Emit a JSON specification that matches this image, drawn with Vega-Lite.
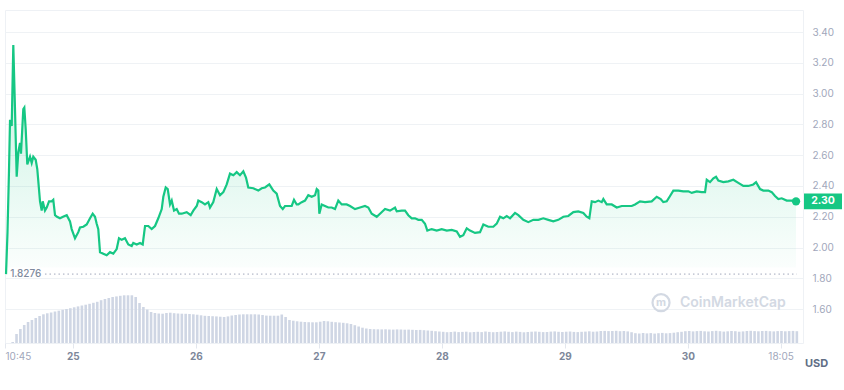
{
"$schema": "https://vega.github.io/schema/vega-lite/v6.json",
"width": 798, "height": 333,
"autosize": {"type": "none"},
"padding": {"left": 5, "top": 10, "right": 41, "bottom": 47},
"background": "#ffffff",
"config": {"view": {"stroke": "#eef1f5", "strokeWidth": 1}, "font": "Inter", "axis": {"labelFont": "Inter", "titleFont": "Inter", "labelOverlap": false}},
"datasets": {
"price": [
{"t":0.2,"p":1.8276},{"t":0.49,"p":2.1},{"t":0.78,"p":2.5},{"t":0.98,"p":2.83},{"t":1.31,"p":2.79},{"t":1.62,"p":3.316},{"t":1.95,"p":2.9},{"t":2.28,"p":2.46},{"t":2.6,"p":2.62},{"t":2.93,"p":2.68},{"t":3.12,"p":2.61},{"t":3.57,"p":2.9},{"t":3.77,"p":2.91},{"t":4.04,"p":2.77},{"t":4.35,"p":2.54},{"t":4.88,"p":2.59},{"t":5.21,"p":2.55},{"t":5.52,"p":2.59},{"t":5.99,"p":2.57},{"t":6.3,"p":2.51},{"t":6.83,"p":2.3},{"t":7.16,"p":2.24},{"t":7.36,"p":2.3},{"t":7.8,"p":2.24},{"t":8.14,"p":2.26},{"t":8.59,"p":2.3},{"t":9.11,"p":2.3},{"t":9.42,"p":2.31},{"t":9.76,"p":2.21},{"t":10.15,"p":2.2},{"t":10.73,"p":2.19},{"t":11.32,"p":2.2},{"t":12.04,"p":2.21},{"t":12.68,"p":2.17},{"t":13.01,"p":2.12},{"t":13.66,"p":2.06},{"t":14.3,"p":2.1},{"t":14.63,"p":2.13},{"t":15.28,"p":2.135},{"t":15.94,"p":2.15},{"t":16.59,"p":2.19},{"t":17.11,"p":2.22},{"t":17.56,"p":2.2},{"t":17.89,"p":2.155},{"t":18.2,"p":2.12},{"t":18.54,"p":1.97},{"t":19.18,"p":1.96},{"t":19.84,"p":1.95},{"t":20.49,"p":1.97},{"t":21.13,"p":1.96},{"t":21.79,"p":1.99},{"t":22.24,"p":2.06},{"t":22.77,"p":2.05},{"t":23.41,"p":2.06},{"t":24.06,"p":2.02},{"t":24.72,"p":2.01},{"t":25.03,"p":2.03},{"t":25.7,"p":2.02},{"t":26.34,"p":2.03},{"t":26.87,"p":2.02},{"t":27.32,"p":2.14},{"t":27.96,"p":2.14},{"t":28.62,"p":2.12},{"t":29.27,"p":2.14},{"t":29.91,"p":2.19},{"t":30.58,"p":2.25},{"t":30.89,"p":2.33},{"t":31.36,"p":2.39},{"t":31.75,"p":2.38},{"t":32.2,"p":2.28},{"t":32.53,"p":2.305},{"t":32.98,"p":2.24},{"t":33.5,"p":2.25},{"t":33.95,"p":2.22},{"t":34.48,"p":2.22},{"t":35.45,"p":2.23},{"t":36.23,"p":2.21},{"t":36.74,"p":2.24},{"t":37.41,"p":2.27},{"t":37.72,"p":2.305},{"t":38.38,"p":2.295},{"t":39.02,"p":2.28},{"t":39.67,"p":2.295},{"t":40,"p":2.26},{"t":40.64,"p":2.295},{"t":41.31,"p":2.38},{"t":41.95,"p":2.34},{"t":42.6,"p":2.36},{"t":43.26,"p":2.41},{"t":43.9,"p":2.48},{"t":44.55,"p":2.47},{"t":45.21,"p":2.49},{"t":45.85,"p":2.47},{"t":46.5,"p":2.495},{"t":47.02,"p":2.455},{"t":47.47,"p":2.39},{"t":48.45,"p":2.385},{"t":49.42,"p":2.37},{"t":50.09,"p":2.385},{"t":50.73,"p":2.39},{"t":51.57,"p":2.41},{"t":52.35,"p":2.37},{"t":53.01,"p":2.35},{"t":53.66,"p":2.27},{"t":54.19,"p":2.25},{"t":54.63,"p":2.27},{"t":55.28,"p":2.27},{"t":55.94,"p":2.27},{"t":56.39,"p":2.31},{"t":56.92,"p":2.28},{"t":57.23,"p":2.28},{"t":57.89,"p":2.295},{"t":58.54,"p":2.305},{"t":59.18,"p":2.34},{"t":59.84,"p":2.33},{"t":60.49,"p":2.34},{"t":60.82,"p":2.38},{"t":61.13,"p":2.37},{"t":61.33,"p":2.22},{"t":61.79,"p":2.28},{"t":62.44,"p":2.27},{"t":63.08,"p":2.26},{"t":63.75,"p":2.26},{"t":64.39,"p":2.25},{"t":65.03,"p":2.305},{"t":65.7,"p":2.28},{"t":66.67,"p":2.28},{"t":67.32,"p":2.27},{"t":68.29,"p":2.25},{"t":69.27,"p":2.26},{"t":70.24,"p":2.27},{"t":70.89,"p":2.26},{"t":71.55,"p":2.22},{"t":72.53,"p":2.2},{"t":73.17,"p":2.22},{"t":74.15,"p":2.25},{"t":75.12,"p":2.24},{"t":76.1,"p":2.26},{"t":76.43,"p":2.235},{"t":77.4,"p":2.24},{"t":78.05,"p":2.24},{"t":78.69,"p":2.21},{"t":79.36,"p":2.19},{"t":80,"p":2.19},{"t":80.64,"p":2.18},{"t":81.31,"p":2.18},{"t":81.95,"p":2.155},{"t":82.4,"p":2.11},{"t":83.26,"p":2.12},{"t":84.23,"p":2.11},{"t":85.21,"p":2.12},{"t":86.19,"p":2.11},{"t":87.16,"p":2.115},{"t":88.14,"p":2.105},{"t":88.78,"p":2.07},{"t":89.42,"p":2.08},{"t":90.09,"p":2.125},{"t":90.73,"p":2.11},{"t":91.71,"p":2.095},{"t":92.68,"p":2.1},{"t":93.33,"p":2.15},{"t":94.3,"p":2.135},{"t":95.28,"p":2.135},{"t":95.94,"p":2.155},{"t":96.59,"p":2.2},{"t":97.23,"p":2.19},{"t":97.89,"p":2.205},{"t":98.54,"p":2.19},{"t":99.51,"p":2.225},{"t":100.16,"p":2.21},{"t":101.13,"p":2.18},{"t":102.11,"p":2.165},{"t":103.08,"p":2.18},{"t":104.06,"p":2.18},{"t":105.03,"p":2.19},{"t":106.01,"p":2.18},{"t":106.98,"p":2.17},{"t":107.96,"p":2.18},{"t":108.94,"p":2.2},{"t":109.91,"p":2.205},{"t":110.89,"p":2.23},{"t":111.86,"p":2.235},{"t":112.84,"p":2.225},{"t":113.5,"p":2.2},{"t":114.01,"p":2.19},{"t":114.48,"p":2.3},{"t":115.12,"p":2.295},{"t":115.77,"p":2.305},{"t":116.43,"p":2.295},{"t":116.74,"p":2.315},{"t":117.4,"p":2.28},{"t":118.38,"p":2.28},{"t":119.36,"p":2.26},{"t":120.33,"p":2.27},{"t":121.31,"p":2.27},{"t":122.28,"p":2.27},{"t":122.93,"p":2.28},{"t":123.9,"p":2.3},{"t":124.88,"p":2.295},{"t":126.18,"p":2.3},{"t":127.16,"p":2.33},{"t":127.94,"p":2.315},{"t":128.44,"p":2.295},{"t":129.11,"p":2.3},{"t":129.76,"p":2.335},{"t":130.4,"p":2.37},{"t":131.38,"p":2.37},{"t":132.35,"p":2.365},{"t":133.33,"p":2.365},{"t":133.99,"p":2.355},{"t":134.97,"p":2.365},{"t":135.94,"p":2.36},{"t":136.59,"p":2.36},{"t":136.92,"p":2.44},{"t":137.56,"p":2.425},{"t":138.21,"p":2.45},{"t":138.73,"p":2.46},{"t":139.18,"p":2.435},{"t":140.16,"p":2.425},{"t":141.13,"p":2.43},{"t":142.11,"p":2.44},{"t":143.08,"p":2.42},{"t":144.06,"p":2.4},{"t":145.03,"p":2.4},{"t":146.01,"p":2.41},{"t":146.54,"p":2.425},{"t":147.32,"p":2.38},{"t":147.96,"p":2.37},{"t":148.94,"p":2.37},{"t":149.6,"p":2.36},{"t":150.24,"p":2.335},{"t":150.89,"p":2.315},{"t":151.55,"p":2.32},{"t":152.52,"p":2.305},{"t":153.5,"p":2.305},{"t":154.34,"p":2.3}
],
"volume": [
{"t":1.5,"v":1},{"t":2.25,"v":9},{"t":3,"v":14},{"t":3.75,"v":18},{"t":4.5,"v":21},{"t":5.25,"v":23},{"t":6,"v":25},{"t":6.75,"v":27},{"t":7.5,"v":28.7},{"t":8.25,"v":29.7},{"t":9,"v":30.5},{"t":9.75,"v":31.5},{"t":10.5,"v":32.3},{"t":11.25,"v":33.2},{"t":12,"v":34},{"t":12.75,"v":34.8},{"t":13.5,"v":35.7},{"t":14.25,"v":36.6},{"t":15,"v":37.5},{"t":15.75,"v":38.3},{"t":16.5,"v":39.2},{"t":17.25,"v":40.2},{"t":18,"v":41.2},{"t":18.75,"v":42.8},{"t":19.5,"v":44},{"t":20.25,"v":45},{"t":21,"v":46},{"t":21.75,"v":46.6},{"t":22.5,"v":47.2},{"t":23.25,"v":47.7},{"t":24,"v":47.7},{"t":24.75,"v":47.7},{"t":25.5,"v":46},{"t":26.25,"v":40},{"t":27,"v":36},{"t":27.75,"v":33.5},{"t":28.5,"v":31},{"t":29.25,"v":30},{"t":30,"v":29.5},{"t":30.75,"v":29.3},{"t":31.5,"v":30},{"t":32.25,"v":30.3},{"t":33,"v":29.8},{"t":33.75,"v":29.5},{"t":34.5,"v":29.3},{"t":35.25,"v":29.2},{"t":36,"v":29},{"t":36.75,"v":28.7},{"t":37.5,"v":28.3},{"t":38.25,"v":27.7},{"t":39,"v":27.2},{"t":39.75,"v":27},{"t":40.5,"v":26.8},{"t":41.25,"v":26.6},{"t":42,"v":26.3},{"t":42.75,"v":26},{"t":43.5,"v":26.6},{"t":44.25,"v":27.5},{"t":45,"v":28},{"t":45.75,"v":28.5},{"t":46.5,"v":28.7},{"t":47.25,"v":28.7},{"t":48,"v":28.7},{"t":48.75,"v":28.7},{"t":49.5,"v":28.5},{"t":50.25,"v":28},{"t":51,"v":27.4},{"t":51.75,"v":27.3},{"t":52.5,"v":27.3},{"t":53.25,"v":27.3},{"t":54,"v":28.5},{"t":54.75,"v":26},{"t":55.5,"v":23},{"t":56.25,"v":22.3},{"t":57,"v":21.7},{"t":57.75,"v":21.3},{"t":58.5,"v":21},{"t":59.25,"v":20.8},{"t":60,"v":20.7},{"t":60.75,"v":20.7},{"t":61.5,"v":21.3},{"t":62.25,"v":22},{"t":63,"v":21.7},{"t":63.75,"v":21.2},{"t":64.5,"v":20.8},{"t":65.25,"v":20.5},{"t":66,"v":20.2},{"t":66.75,"v":19.7},{"t":67.5,"v":19},{"t":68.25,"v":17.8},{"t":69,"v":16.5},{"t":69.75,"v":15.3},{"t":70.5,"v":14.5},{"t":71.25,"v":14},{"t":72,"v":13.8},{"t":72.75,"v":13.7},{"t":73.5,"v":13.6},{"t":74.25,"v":13.7},{"t":75,"v":13.5},{"t":75.75,"v":13.4},{"t":76.5,"v":13.6},{"t":77.25,"v":13.5},{"t":78,"v":13.3},{"t":78.75,"v":13.4},{"t":79.5,"v":13.2},{"t":80.25,"v":13},{"t":81,"v":13.1},{"t":81.75,"v":12.8},{"t":82.5,"v":12.5},{"t":83.25,"v":12.2},{"t":84,"v":11.8},{"t":84.75,"v":11.5},{"t":85.5,"v":11.2},{"t":86.25,"v":10.8},{"t":87,"v":11},{"t":87.75,"v":11.4},{"t":88.5,"v":10.9},{"t":89.25,"v":11.1},{"t":90,"v":11.3},{"t":90.75,"v":10.7},{"t":91.5,"v":11},{"t":92.25,"v":11.2},{"t":93,"v":10.9},{"t":93.75,"v":11.5},{"t":94.5,"v":11.1},{"t":95.25,"v":10.8},{"t":96,"v":11},{"t":96.75,"v":11.3},{"t":97.5,"v":11.6},{"t":98.25,"v":11.2},{"t":99,"v":10.9},{"t":99.75,"v":11.4},{"t":100.5,"v":11.1},{"t":101.25,"v":10.7},{"t":102,"v":11},{"t":102.75,"v":11.3},{"t":103.5,"v":11.5},{"t":104.25,"v":11.2},{"t":105,"v":10.9},{"t":105.75,"v":11},{"t":106.5,"v":11.4},{"t":107.25,"v":11.6},{"t":108,"v":11.2},{"t":108.75,"v":11},{"t":109.5,"v":11.3},{"t":110.25,"v":11.5},{"t":111,"v":11.1},{"t":111.75,"v":10.9},{"t":112.5,"v":11.2},{"t":113.25,"v":11.4},{"t":114,"v":11.7},{"t":114.75,"v":11.3},{"t":115.5,"v":11.5},{"t":116.25,"v":12},{"t":117,"v":12.1},{"t":117.75,"v":11.9},{"t":118.5,"v":12},{"t":119.25,"v":12.2},{"t":120,"v":11.8},{"t":120.75,"v":12},{"t":121.5,"v":11.6},{"t":122.25,"v":10.8},{"t":123,"v":9.8},{"t":123.75,"v":9.5},{"t":124.5,"v":10},{"t":125.25,"v":9.6},{"t":126,"v":9.9},{"t":126.75,"v":9.4},{"t":127.5,"v":9.8},{"t":128.25,"v":10.1},{"t":129,"v":9.7},{"t":129.75,"v":9.9},{"t":130.5,"v":10.3},{"t":131.25,"v":10.8},{"t":132,"v":11.2},{"t":132.75,"v":11.8},{"t":133.5,"v":12},{"t":134.25,"v":11.6},{"t":135,"v":11.9},{"t":135.75,"v":12.1},{"t":136.5,"v":11.7},{"t":137.25,"v":11.5},{"t":138,"v":11.9},{"t":138.75,"v":12.2},{"t":139.5,"v":11.8},{"t":140.25,"v":11.4},{"t":141,"v":11.7},{"t":141.75,"v":12},{"t":142.5,"v":11.8},{"t":143.25,"v":11.3},{"t":144,"v":11.6},{"t":144.75,"v":12},{"t":145.5,"v":12.2},{"t":146.25,"v":11.9},{"t":147,"v":11.7},{"t":147.75,"v":12},{"t":148.5,"v":12.1},{"t":149.25,"v":11.8},{"t":150,"v":11.6},{"t":150.75,"v":11.9},{"t":151.5,"v":12},{"t":152.25,"v":11.7},{"t":153,"v":11.9},{"t":153.75,"v":12.1},{"t":154.5,"v":11.8}
],
"notes": [{"low": 1.8276, "last": 2.3, "brand": "CoinMarketCap", "logoY": 1.642}]
},
"layer": [
{
"data": {"name": "volume"},
"mark": {"type": "bar", "color": "#cfd6e4", "size": 2.6},
"encoding": {
"x": {"field": "t", "type": "quantitative", "scale": {"domain": [0, 155.7], "nice": false, "zero": false, "padding": 0},
"axis": {"values": [0, 13.25, 37.25, 61.25, 85.25, 109.25, 133.25, 151.33],
"labelExpr": "datum.value == 0 ? '10:45' : datum.value > 150 ? '18:05' : '' + (25 + round((datum.value - 13.25) / 24))",
"grid": false, "domain": false, "ticks": true, "tickColor": "#e3e7ee", "tickSize": 5,
"labelFlush": true, "labelOverlap": false, "labelPadding": 3, "labelFontSize": 10,
"labelColor": {"condition": {"test": "datum.value > 1 && datum.value < 150", "value": "#7d879a"}, "value": "#a1a7bb"},
"labelFontWeight": {"condition": {"test": "datum.value > 1 && datum.value < 150", "value": "bold"}, "value": "normal"},
"title": "USD", "titleX": 811, "titleY": 20, "titleAlign": "center", "titleBaseline": "middle",
"titleFontSize": 11, "titleFontWeight": "bold", "titleColor": "#616e85"}},
"y": {"field": "v", "type": "quantitative", "scale": {"domain": [0, 333], "nice": false}, "axis": null}
}
},
{
"layer": [
{
"data": {"name": "price"},
"mark": {"type": "area", "color": {"gradient": "linear", "x1": 0, "y1": 0, "x2": 0, "y2": 1, "stops": [{"offset": 0, "color": "rgba(22,199,132,0.25)"}, {"offset": 1, "color": "rgba(22,199,132,0.01)"}]}},
"encoding": {
"x": {"field": "t", "type": "quantitative"},
"y": {"field": "p", "type": "quantitative", "scale": {"domain": [1.38, 3.543], "nice": false, "zero": false}},
"y2": {"datum": 1.87}
}
},
{
"data": {"name": "price"},
"mark": {"type": "line", "color": "#16c784", "strokeWidth": 2.2},
"encoding": {
"x": {"field": "t", "type": "quantitative"},
"y": {"field": "p", "type": "quantitative",
"axis": {"orient": "right", "values": [1.6, 1.8, 2, 2.2, 2.4, 2.6, 2.8, 3, 3.2, 3.4], "tickCount": 11,
"labelExpr": "datum.value < 1.5 ? '' : format(datum.value, '.2f')",
"grid": true, "gridColor": "#eff2f5", "domain": false, "ticks": false, "labelPadding": 9, "labelOverlap": false,
"labelFontSize": 10, "labelColor": "#a1a7bb", "title": null}}
}
},
{
"data": {"name": "notes"},
"mark": {"type": "rule", "color": "#a1a7bb", "strokeDash": [1.5, 3], "strokeWidth": 1},
"encoding": {
"x": {"datum": 7.8, "type": "quantitative"},
"x2": {"datum": 154.5},
"y": {"field": "low", "type": "quantitative"}
}
},
{
"data": {"name": "notes"},
"mark": {"type": "text", "align": "left", "baseline": "middle", "color": "#808a9d", "fontSize": 10, "fontWeight": 500},
"encoding": {
"x": {"datum": 1.0, "type": "quantitative"},
"y": {"field": "low", "type": "quantitative"},
"text": {"field": "low", "type": "quantitative", "format": ".4f"}
}
},
{
"data": {"name": "price"},
"transform": [{"filter": "datum.t > 154"}],
"mark": {"type": "point", "filled": true, "color": "#16c784", "size": 70, "opacity": 1},
"encoding": {
"x": {"field": "t", "type": "quantitative"},
"y": {"field": "p", "type": "quantitative"}
}
},
{
"data": {"name": "notes"},
"mark": {"type": "point", "shape": "M-1,-0.42H1V0.42H-1Z", "filled": true, "color": "#16c784", "size": 1444, "opacity": 1, "xOffset": 20},
"encoding": {
"x": {"datum": 155.7, "type": "quantitative"},
"y": {"field": "last", "type": "quantitative"}
}
},
{
"data": {"name": "notes"},
"mark": {"type": "text", "align": "center", "baseline": "middle", "color": "#ffffff", "fontSize": 10.5, "fontWeight": "bold", "dx": 20},
"encoding": {
"x": {"datum": 155.7, "type": "quantitative"},
"y": {"field": "last", "type": "quantitative"},
"text": {"field": "last", "type": "quantitative", "format": ".2f"}
}
},
{
"data": {"name": "notes"},
"mark": {"type": "point", "shape": "circle", "filled": false, "color": "#d3d9e3", "strokeWidth": 2.2, "size": 290, "opacity": 1},
"encoding": {
"x": {"datum": 128.0, "type": "quantitative"},
"y": {"field": "logoY", "type": "quantitative"}
}
},
{
"data": {"name": "notes"},
"mark": {"type": "text", "align": "center", "baseline": "middle", "color": "#d3d9e3", "fontSize": 11, "fontWeight": "bold"},
"encoding": {
"x": {"datum": 128.0, "type": "quantitative"},
"y": {"field": "logoY", "type": "quantitative"},
"text": {"value": "m"}
}
},
{
"data": {"name": "notes"},
"mark": {"type": "text", "align": "left", "baseline": "middle", "color": "#d3d9e3", "fontSize": 14, "fontWeight": 600},
"encoding": {
"x": {"datum": 131.7, "type": "quantitative"},
"y": {"field": "logoY", "type": "quantitative"},
"text": {"field": "brand", "type": "nominal"}
}
}
]
}
],
"resolve": {"scale": {"y": "independent"}}
}
